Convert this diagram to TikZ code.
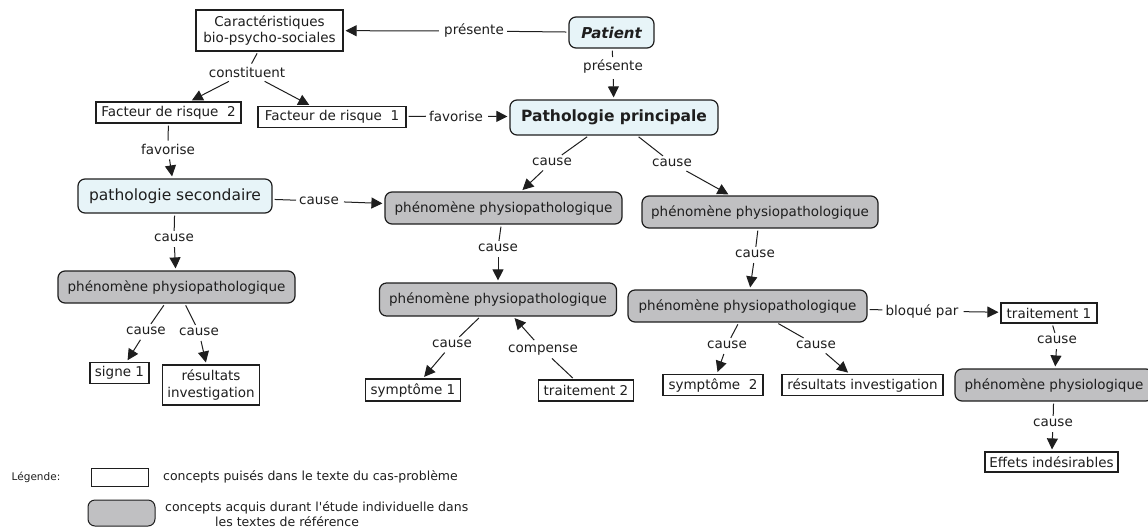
\documentclass[tikz,border=0pt]{standalone}
\usepackage{fontspec}
\setmainfont{DejaVu Sans}
\usetikzlibrary{arrows.meta}
\definecolor{lblue}{RGB}{231,244,248}
\definecolor{cgray}{RGB}{192,192,194}
\definecolor{ink}{RGB}{30,30,30}
\tikzset{
  base/.style={font=\fontsize{13.5}{17}\selectfont, text=ink, inner sep=0pt, align=center},
  rbox/.style={base, draw=ink, line width=1.2pt, fill=white},
  gbox/.style={base, draw=ink, line width=1.2pt, fill=cgray, rounded corners=7pt},
  bbox/.style={base, draw=ink, line width=1.2pt, fill=lblue, rounded corners=7pt},
  lab/.style={base, inner sep=3pt},
  conn/.style={draw=ink, line width=1pt, shorten <=2pt},
  arr/.style={conn, -{Triangle[width=11pt,length=11pt]}, shorten >=2pt},
  sz/.style n args={2}{minimum width=#1pt, minimum height=#2pt},
}
\begin{document}
\begin{tikzpicture}[x=1pt,y=-1pt]
\useasboundingbox (0,0) rectangle (1148,531);
% concepts
\node[rbox, sz={147}{41}] (car) at (269.5,30.5) {Caractéristiques\\bio-psycho-sociales};
\node[bbox, sz={85}{31}] (pat) at (611.5,32.5) {\fontsize{15}{18}\selectfont\bfseries\itshape Patient};
\node[rbox, sz={145}{21}] (fr2) at (168.5,112.5) {Facteur de risque\ \ 2};
\node[rbox, sz={148}{21}] (fr1) at (332,117) {Facteur de risque\ \ 1};
\node[bbox, sz={208}{35}] (pp) at (614,117.5) {\fontsize{15.5}{18}\selectfont\bfseries Pathologie principale};
\node[bbox, sz={194}{34}] (ps) at (175,196) {\fontsize{15.5}{18}\selectfont pathologie secondaire};
\node[gbox, sz={237}{32}] (ph1) at (503.5,208) {phénomène physiopathologique};
\node[gbox, sz={236}{32}] (ph2) at (760,212) {phénomène physiopathologique};
\node[gbox, sz={237}{32}] (ph3) at (176.5,287) {phénomène physiopathologique};
\node[gbox, sz={237}{33}] (ph4) at (498,299.5) {phénomène physiopathologique};
\node[gbox, sz={239}{32}] (ph5) at (747.5,306) {phénomène physiopathologique};
\node[rbox, sz={96}{20}] (t1) at (1049,313) {traitement 1};
\node[rbox, sz={59}{21}] (s1) at (119.5,373) {signe 1};
\node[rbox, sz={97}{40}] (ri1) at (211,385) {résultats\\investigation};
\node[rbox, sz={95}{22}] (sym1) at (413,390) {symptôme 1};
\node[rbox, sz={95}{21}] (t2) at (586,390.5) {traitement 2};
\node[rbox, sz={100}{21}] (sym2) at (713,385) {symptôme\ \ 2};
\node[rbox, sz={161}{21}] (ri2) at (862.5,385) {résultats investigation};
\node[gbox, sz={198}{32}] (phys) at (1054,385) {phénomène physiologique};
\node[rbox, sz={133}{20}] (eff) at (1051.5,462) {Effets indésirables};
% linking phrases
\node[lab] (l1) at (474,31) {présente};
\node[lab] (l2) at (613,67) {présente};
\node[lab] (l3) at (247,72) {constituent};
\node[lab] (l4) at (456,116) {favorise};
\node[lab] (l5) at (168,149) {favorise};
\node[lab] (l6) at (319,201) {cause};
\node[lab] (l7) at (552,162) {cause};
\node[lab] (l8) at (672,163) {cause};
\node[lab] (l9) at (174,238) {cause};
\node[lab] (l10) at (498,248) {cause};
\node[lab] (l11) at (755,254) {cause};
\node[lab] (l12) at (146,331) {cause};
\node[lab] (l13) at (199,332) {cause};
\node[lab] (l14) at (452,344) {cause};
\node[lab] (l15) at (543,350) {compense};
\node[lab] (l16) at (922,311) {bloqué par};
\node[lab] (l17) at (727,345) {cause};
\node[lab] (l18) at (816,345) {cause};
\node[lab] (l19) at (1057,340) {cause};
\node[lab] (l20) at (1053,423) {cause};
% connectors
\draw[conn] (pat) -- (l1); \draw[arr] (l1) -- (car);
\draw[conn] (pat) -- (l2); \draw[arr] (l2) -- (pp);
\draw[conn] (car) -- (l3); \draw[arr] (l3) -- (fr2); \draw[arr] (l3) -- (fr1);
\draw[conn] (fr1) -- (l4); \draw[arr] (l4) -- (pp);
\draw[conn] (fr2) -- (l5); \draw[arr] (l5) -- (ps);
\draw[conn] (ps) -- (l6); \draw[arr] (l6) -- (ph1);
\draw[conn] (pp) -- (l7); \draw[arr] (l7) -- (ph1);
\draw[conn] (pp) -- (l8); \draw[arr] (l8) -- (ph2);
\draw[conn] (ps) -- (l9); \draw[arr] (l9) -- (ph3);
\draw[conn] (ph1) -- (l10); \draw[arr] (l10) -- (ph4);
\draw[conn] (ph2) -- (l11); \draw[arr] (l11) -- (ph5);
\draw[conn] (ph3) -- (l12); \draw[arr] (l12) -- (s1);
\draw[conn] (ph3) -- (l13); \draw[arr] (l13) -- (ri1);
\draw[conn] (ph4) -- (l14); \draw[arr] (l14) -- (sym1);
\draw[conn] (t2) -- (l15); \draw[arr] (l15) -- (ph4);
\draw[conn] (ph5) -- (l16); \draw[arr] (l16) -- (t1);
\draw[conn] (ph5) -- (l17); \draw[arr] (l17) -- (sym2);
\draw[conn] (ph5) -- (l18); \draw[arr] (l18) -- (ri2);
\draw[conn] (t1) -- (l19); \draw[arr] (l19) -- (phys);
\draw[conn] (phys) -- (l20); \draw[arr] (l20) -- (eff);
% legend
\node[base, font=\fontsize{10.5}{13}\selectfont] (leg) at (36,477) {Légende:};
\node[rbox, sz={57}{18}, line width=1pt] (legw) at (119.5,477) {};
\node[gbox, sz={67}{26}, line width=1pt] (legg) at (121.5,513) {};
\node[base, anchor=west, font=\fontsize{12.5}{15}\selectfont] (legt1) at (163,477) {concepts puisés dans le texte du cas-problème};
\node[base, anchor=west, font=\fontsize{12.5}{15}\selectfont] (legt2) at (165,508) {concepts acquis durant l\textquotesingle étude individuelle dans};
\node[base, anchor=west, font=\fontsize{12.5}{15}\selectfont] (legt3) at (215,522) {les textes de référence};
\end{tikzpicture}
\end{document}
